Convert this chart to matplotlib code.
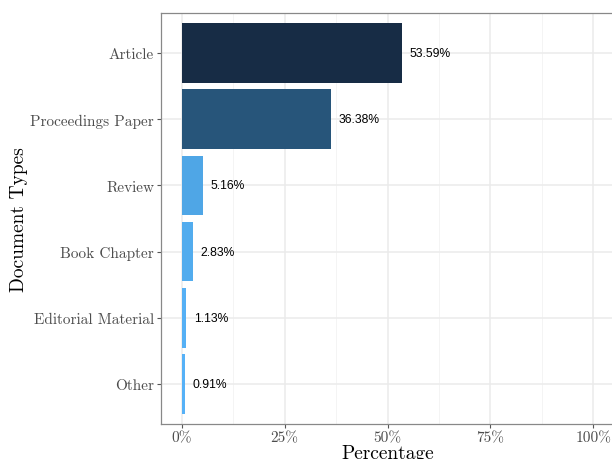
import matplotlib
matplotlib.use("Agg")
import matplotlib.pyplot as plt
import numpy as np

# data
doc_types = ["Article", "Proceedings Paper", "Review", "Book Chapter",
             "Editorial Material", "Other"]
percentages = [53.59, 36.38, 5.16, 2.83, 1.13, 0.91]
bar_colors = ["#172c45", "#27557a", "#4fa6e6", "#52acee", "#55b0f5", "#56b1f7"]
x_ticks = [0, 25, 50, 75, 100]
x_tick_labels = ["0%", "25%", "50%", "75%", "100%"]

plt.rcParams["font.family"] = "cmr10"
plt.rcParams["axes.formatter.use_mathtext"] = True

fig = plt.figure(figsize=(6.12, 4.6), dpi=100)
ax = fig.add_axes([161 / 612, 1 - 424.6 / 460, 453 / 612, 410.2 / 460])

y = np.arange(len(doc_types))[::-1]
ax.barh(y, percentages, height=0.9, color=bar_colors, edgecolor="none", zorder=3)

for yi, p in zip(y, percentages):
    ax.text(p + 1.8, yi, f"{p:.2f}%", va="center", ha="left",
            fontsize=8.7, family="Liberation Sans", color="black", zorder=4)

ax.set_xlim(-5, 105)
ax.set_ylim(-0.6, len(doc_types) - 0.4)
ax.set_xticks(x_ticks)
ax.set_xticklabels(x_tick_labels)
ax.set_xticks([12.5, 37.5, 62.5, 87.5], minor=True)
ax.set_yticks(y)
ax.set_yticklabels(doc_types)

ax.grid(True, which="major", color="#ebebeb", linewidth=1.1, zorder=0)
ax.grid(True, which="minor", axis="x", color="#f2f2f2", linewidth=0.6, zorder=0)
ax.set_axisbelow(True)

ax.tick_params(axis="both", which="major", length=3, width=0.8, color="#555555",
               labelsize=11, labelcolor="#4d4d4d", pad=2)
ax.tick_params(axis="x", which="minor", length=0)

for side, sp in ax.spines.items():
    sp.set_color("#888888")
    sp.set_linewidth(0.9)

ax.set_xlabel("Percentage", fontsize=14, labelpad=0)
ax.set_ylabel("Document Types", fontsize=14, labelpad=2)

fig.savefig("out.png", dpi=100)
